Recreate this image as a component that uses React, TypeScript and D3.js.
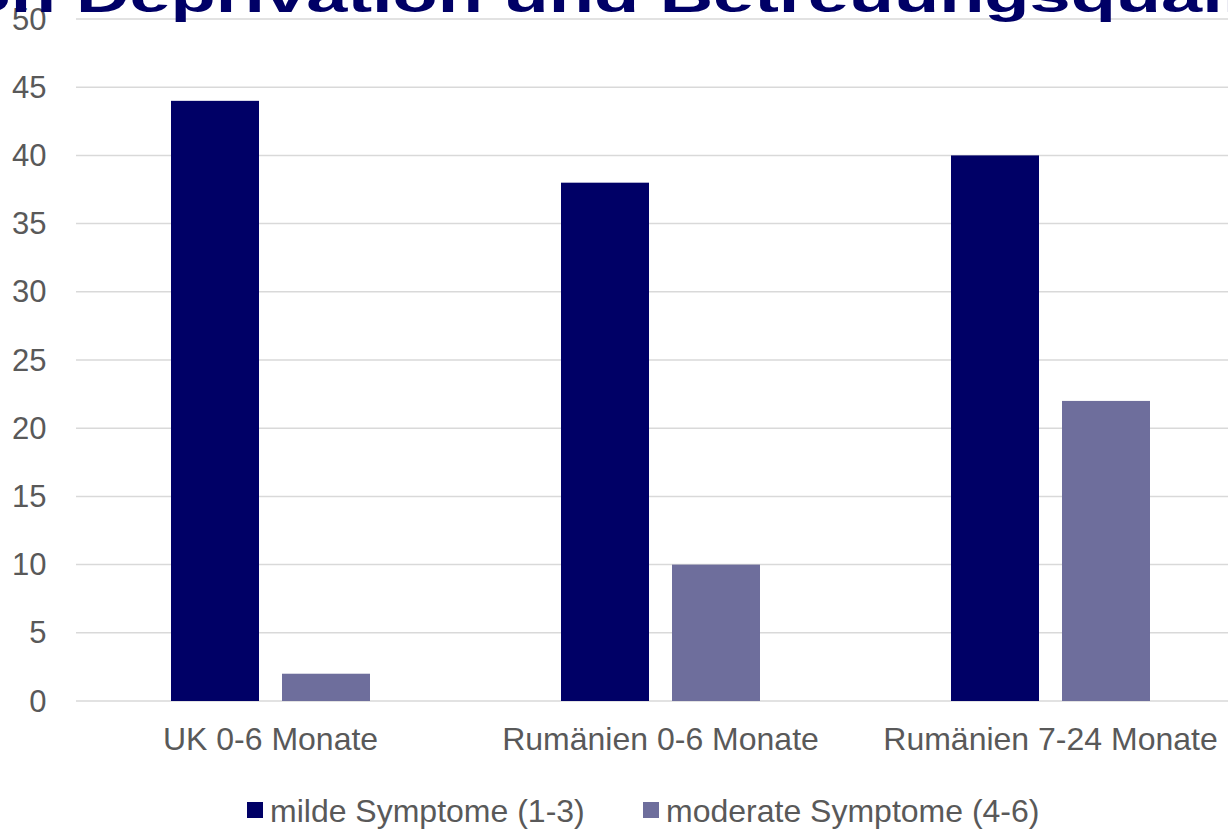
import React from "react";
import * as d3 from "d3";

const categories = ["UK 0-6 Monate", "Rumänien 0-6 Monate", "Rumänien 7-24 Monate"];
const seriesNames = ["milde Symptome (1-3)", "moderate Symptome (4-6)"];
const mildValues = [44, 38, 40];
const moderateValues = [2, 10, 22];
const yTicks = [0, 5, 10, 15, 20, 25, 30, 35, 40, 45, 50];
const titleLead = "von";
const titleMain = "Deprivation und Betreuungsqualität";

const W = 1228;
const H = 829;
const colors = ["#000066", "#6e6e9c"];
const font = "Arial, 'Liberation Sans', sans-serif";
const legendX = [247, 643];

export default function App() {
  // category bands run past the right edge of the view
  const x0 = d3.scaleBand<string>().domain(categories).range([75.5, 1245.5]);
  const x1 = d3.scaleBand<string>().domain(seriesNames).range([95.5, 294.5]).paddingInner(23 / 111);
  const y = d3.scaleLinear().domain([0, 50]).range([701, 19]);
  const values = [mildValues, moderateValues];

  return (
    <div style={{ position: "fixed", left: 0, top: 0 }}>
      <svg width={W} height={H} style={{ display: "block", background: "#fff" }}>
        {/* gridlines */}
        {yTicks.map((t) => (
          <line key={t} x1={76} x2={W} y1={y(t)} y2={y(t)} stroke="#d9d9d9" strokeWidth={1.5} />
        ))}
        {/* bars */}
        {categories.map((c, ci) =>
          seriesNames.map((s, si) => {
            const v = values[si][ci];
            return (
              <rect
                key={c + s}
                x={(x0(c) as number) + (x1(s) as number)}
                y={y(v)}
                width={x1.bandwidth()}
                height={y(0) - y(v)}
                fill={colors[si]}
              />
            );
          })
        )}
        {/* y axis labels */}
        {yTicks.map((t) => (
          <text key={t} x={46.5} y={y(t) + 10.5} textAnchor="end" fontFamily={font} fontSize={31} fill="#595959">
            {t}
          </text>
        ))}
        {/* category labels */}
        {categories.map((c) => (
          <text
            key={c}
            x={(x0(c) as number) + x0.bandwidth() / 2}
            y={750}
            textAnchor="middle"
            fontFamily={font}
            fontSize={32}
            fill="#595959"
          >
            {c}
          </text>
        ))}
        {/* legend */}
        {seriesNames.map((s, i) => {
          const lx = legendX[i];
          return (
            <g key={s}>
              <rect x={lx} y={802} width={16} height={16} fill={colors[i]} />
              <text x={lx + 23} y={822} fontFamily={font} fontSize={32} fill="#595959">
                {s}
              </text>
            </g>
          );
        })}
        {/* title, clipped at the top edge */}
        <g transform="translate(76,12) scale(1,0.65)">
          <text x={-20} y={0} textAnchor="end" fontFamily={font} fontWeight="bold" fontSize={74} fill="#000066">
            {titleLead}
          </text>
          <text x={0} y={0} fontFamily={font} fontWeight="bold" fontSize={74} fill="#000066">
            {titleMain}
          </text>
        </g>
      </svg>
    </div>
  );
}
